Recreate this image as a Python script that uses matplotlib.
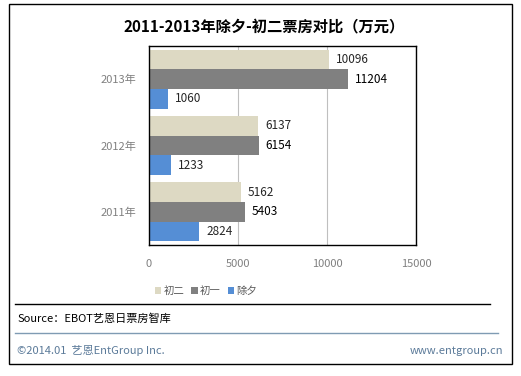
import matplotlib
matplotlib.use('Agg')
import matplotlib.pyplot as plt
from matplotlib.patches import Rectangle, Patch
from matplotlib.lines import Line2D
import numpy as np

plt.rcParams['font.family'] = ['Noto Sans CJK SC', 'DejaVu Sans']

years = ['2011年', '2012年', '2013年']
chuer = [5162, 6137, 10096]     # 初二
chuyi = [5403, 6154, 11204]     # 初一
chuxi = [2824, 1233, 1060]      # 除夕
series_names = ['初二', '初一', '除夕']
colors = ['#DDD9C3', '#808080', '#558ED5']
xticks = [0, 5000, 10000, 15000]

W, H = 521, 376
fig = plt.figure(figsize=(W / 100, H / 100), dpi=100)
fig.patch.set_facecolor('white')

ax = fig.add_axes([149 / W, 1 - 245 / H, (416 - 149) / W, (245 - 46) / H])

y = np.arange(len(years))
bh = 0.297
offsets = [bh, 0, -bh]
for vals, off, c, name in zip([chuer, chuyi, chuxi], offsets, colors, series_names):
    bars = ax.barh(y + off, vals, height=bh, color=c, label=name, zorder=2)
    for b, v in zip(bars, vals):
        tc = 'black' if c == '#808080' else '#262626'
        ax.annotate(str(v), (b.get_width(), b.get_y() + b.get_height() / 2),
                    xytext=(5, 0), textcoords='offset points',
                    va='center', ha='left', fontsize=8.5, color=tc)

ax.set_xlim(0, 15000)
ax.set_ylim(-0.5, 2.5)
ax.set_xticks(xticks)
ax.set_xticklabels([str(t) for t in xticks], color='#808080', fontsize=8)
ax.set_yticks(y)
ax.set_yticklabels(years, color='#808080', fontsize=8)
ax.tick_params(axis='y', length=0, pad=9)
ax.tick_params(axis='x', length=0, pad=10)
ax.grid(axis='x', color='#BFBFBF', linewidth=0.8, zorder=0)
for s in ax.spines.values():
    s.set_color('black')
    s.set_linewidth(1)

fig.text(264 / W, 1 - 27 / H, '2011-2013年除夕-初二票房对比（万元）',
         ha='center', va='center', fontsize=11, fontweight='bold')

handles = [Patch(facecolor=c, edgecolor='none') for c in colors]
fig.legend(handles, series_names, loc='center', bbox_to_anchor=(206 / W, 1 - 291 / H),
           ncol=3, frameon=False, fontsize=7.5, handlelength=0.6, handleheight=0.6,
           handletextpad=0.2, columnspacing=0.7, labelcolor='#595959')

# outer frame and separators
fig.add_artist(Rectangle((9 / W, 1 - 364 / H), (512 - 9) / W, (364 - 4) / H,
                         transform=fig.transFigure, fill=False, edgecolor='black', linewidth=1))
fig.add_artist(Line2D([15 / W, 490 / W], [1 - 304 / H] * 2, transform=fig.transFigure,
                      color='black', linewidth=1))
fig.add_artist(Line2D([15 / W, 498 / W], [1 - 333 / H] * 2, transform=fig.transFigure,
                      color='#7F9BB3', linewidth=1))

fig.text(17 / W, 1 - 319 / H, 'Source：EBOT艺恩日票房智库', ha='left', va='center',
         fontsize=8, color='black')
fig.text(17 / W, 1 - 351 / H, '©2014.01  艺恩EntGroup Inc.', ha='left', va='center',
         fontsize=8, color='#5B7A99')
fig.text(503 / W, 1 - 351 / H, 'www.entgroup.cn', ha='right', va='center',
         fontsize=8, color='#5B7A99')

fig.savefig('out.png', dpi=100)
